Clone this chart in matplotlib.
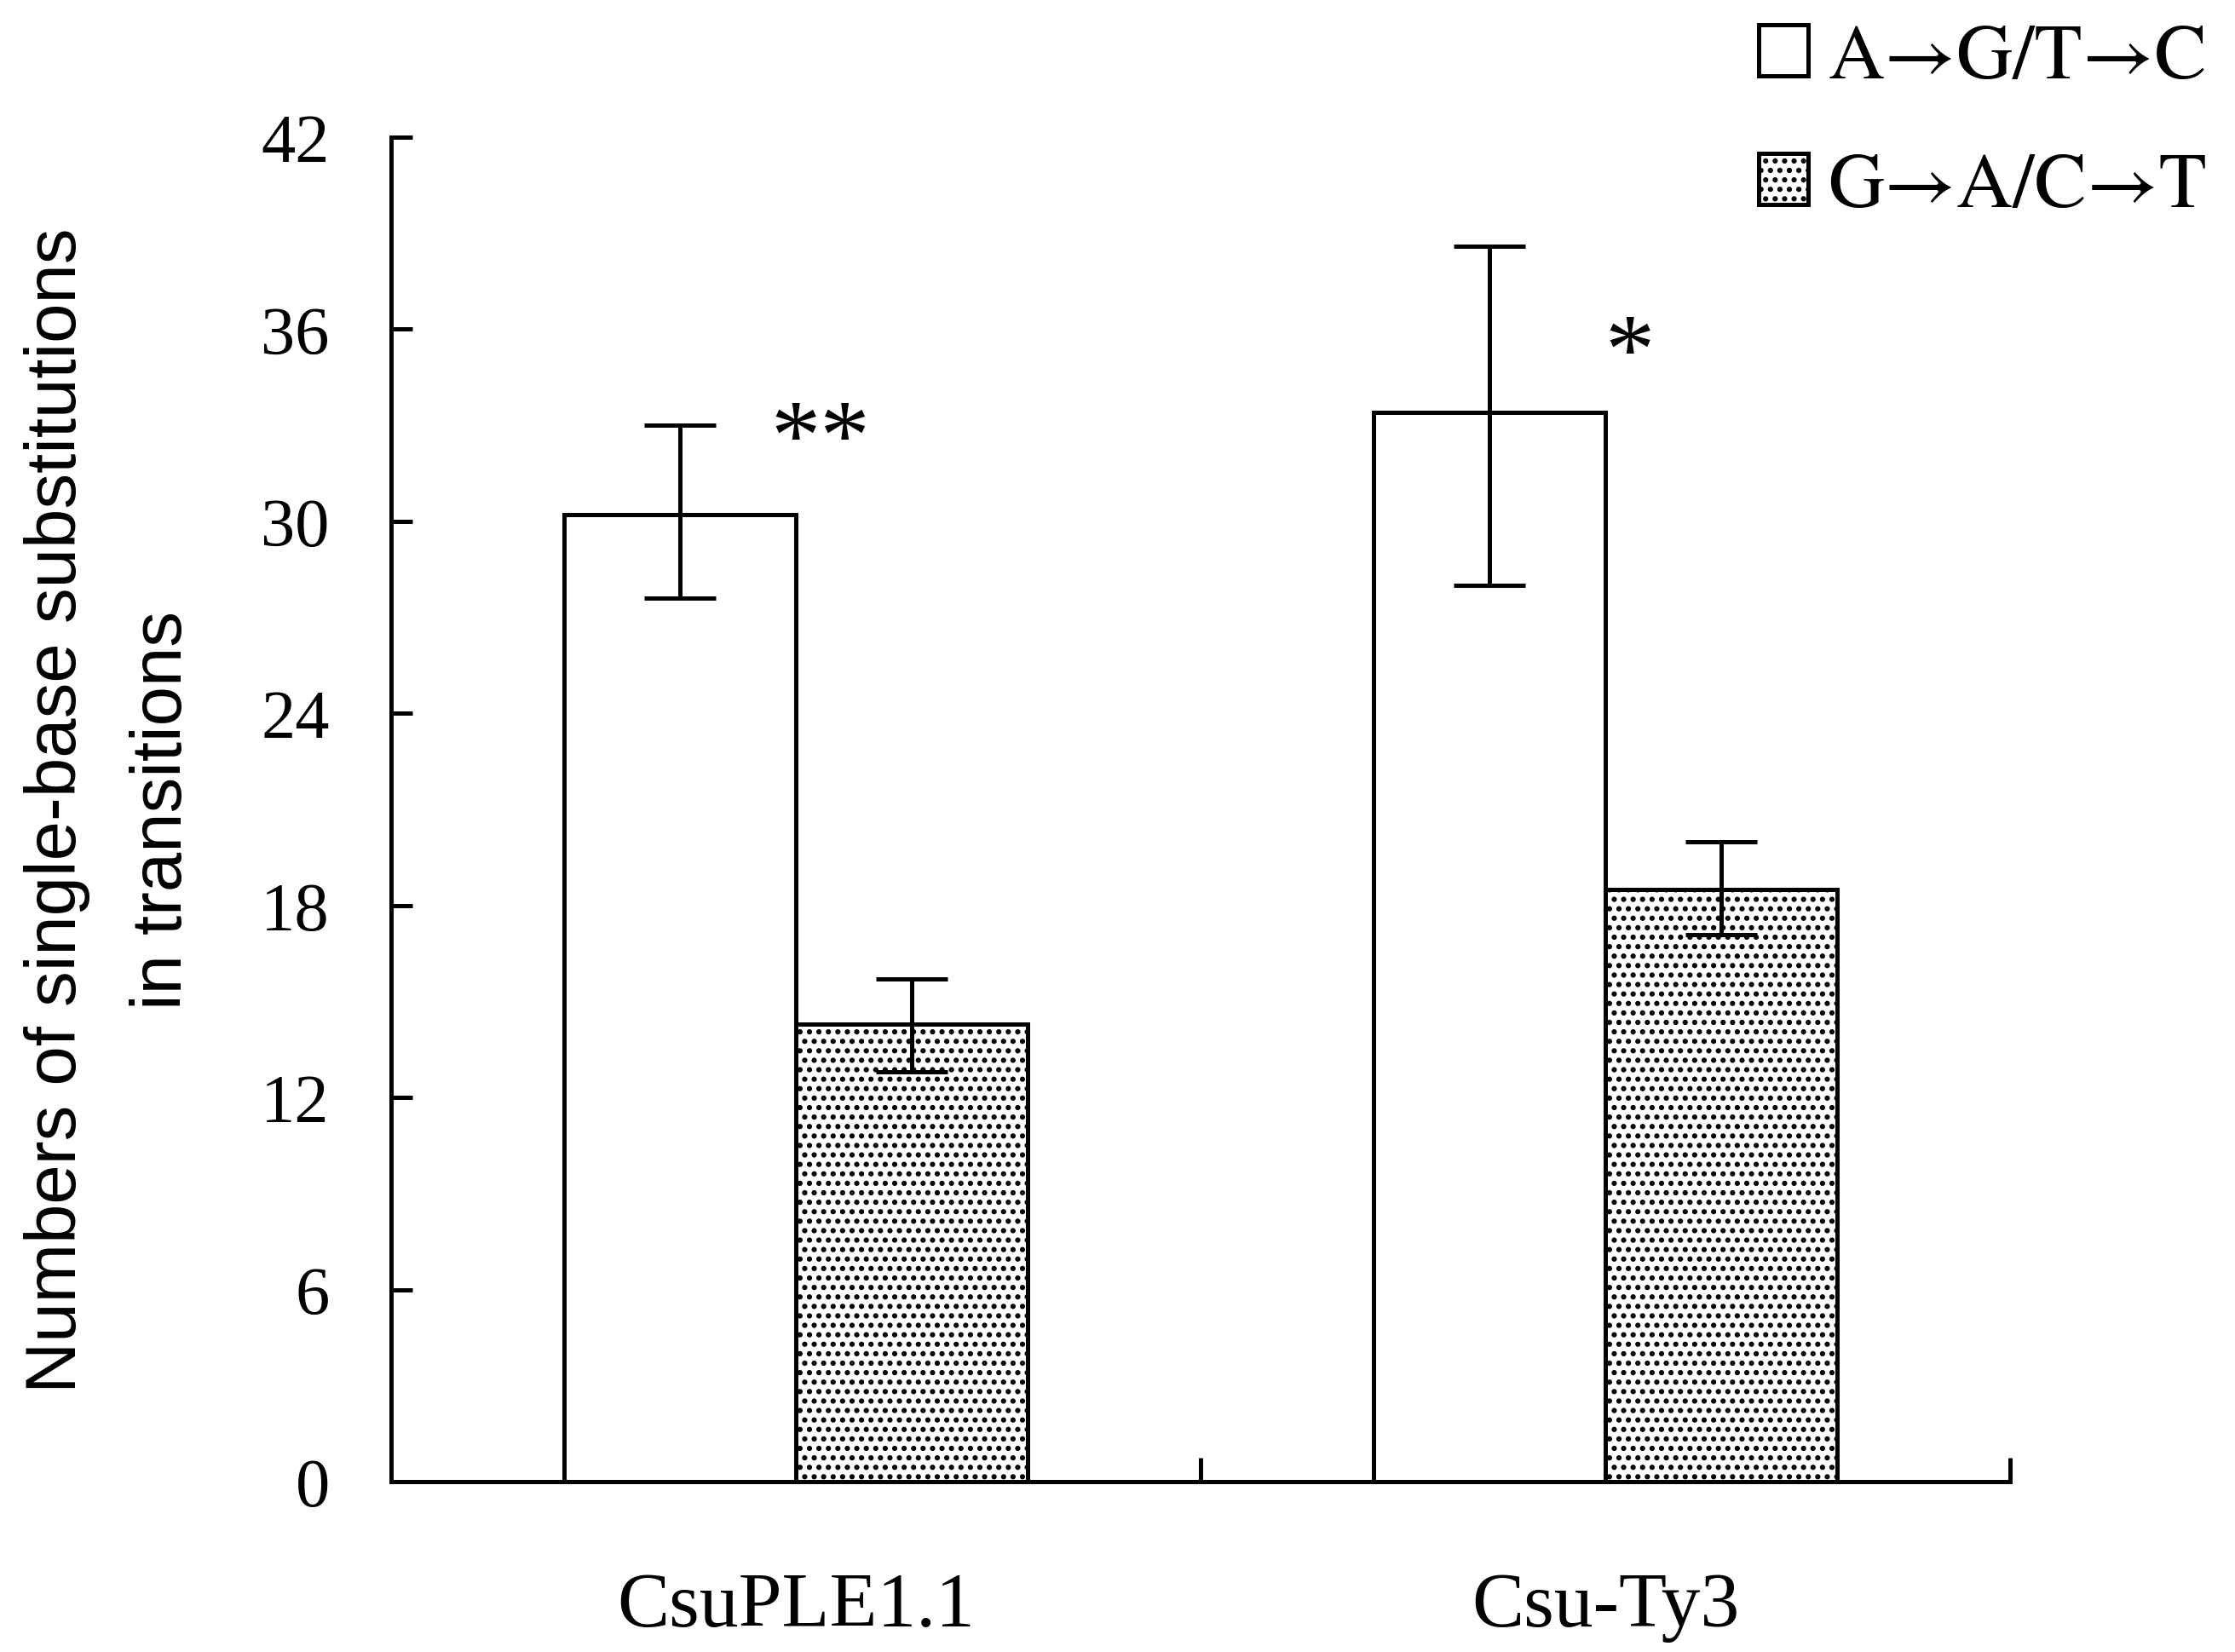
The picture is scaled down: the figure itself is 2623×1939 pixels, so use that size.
"""Single-base substitutions in transitions: A->G/T->C vs G->A/C->T"""

import numpy as np
import matplotlib
matplotlib.use('Agg')
import matplotlib.pyplot as plt
from matplotlib.patches import Patch

plt.rcParams['font.family'] = ['Liberation Serif', 'DejaVu Serif']
plt.rcParams['hatch.linewidth'] = 1.4

# data
groups = ['CsuPLE1.1', 'Csu-Ty3']
series = ['A\u2192G/T\u2192C', 'G\u2192A/C\u2192T']
ag_mean = [30.2, 33.4]
ag_lo = [27.6, 28.0]
ag_hi = [33.0, 38.6]
ga_mean = [14.3, 18.5]
ga_lo = [12.8, 17.1]
ga_hi = [15.7, 20.0]
stars = ['**', '*']
star_y = [33.0, 35.7]
yticks = [0, 6, 12, 18, 24, 30, 36, 42]

fig = plt.figure(figsize=(13.115, 9.7), dpi=200)
ax = fig.add_axes([0.175, 0.1031, 0.7244, 0.8134])

x = np.arange(len(groups))
w = 0.286
lw = 1.8
dots = '...'

ag_err = [np.array(ag_mean) - np.array(ag_lo), np.array(ag_hi) - np.array(ag_mean)]
ga_err = [np.array(ga_mean) - np.array(ga_lo), np.array(ga_hi) - np.array(ga_mean)]
ekw = dict(ecolor='black', elinewidth=lw, capsize=15, capthick=lw)

ax.bar(x - w / 2, ag_mean, w, color='white', edgecolor='black', lw=lw,
       yerr=ag_err, error_kw=ekw)
ax.bar(x + w / 2, ga_mean, w, color='white', edgecolor='black', lw=lw, hatch=dots,
       yerr=ga_err, error_kw=ekw)

for xi, s, sy in zip(x, stars, star_y):
    ax.annotate(s, (xi + 0.03, sy), xytext=(0, -8), textcoords='offset points',
                ha='center', va='center', fontsize=42)

ax.set_xlim(-0.5, 1.5)
ax.set_ylim(0, 42)
ax.set_yticks(yticks)
ax.tick_params(axis='y', direction='in', length=9, width=lw, labelsize=29, pad=26)
ax.set_xticks(x, groups)
ax.tick_params(axis='x', which='major', length=0, labelsize=33, pad=38)
ax.set_xticks([0.5, 1.5], minor=True)
ax.tick_params(axis='x', which='minor', direction='in', length=10, width=lw)

for side in ['top', 'right']:
    ax.spines[side].set_visible(False)
for side in ['left', 'bottom']:
    ax.spines[side].set_linewidth(lw)

ax.set_ylabel('Numbers of single-base substitutions\nin transitions',
              family=['Liberation Sans Narrow', 'Liberation Sans'],
              fontsize=30, linespacing=1.76)
ax.yaxis.set_label_coords(-0.1205, 0.5)

handles = [Patch(facecolor='white', edgecolor='black', lw=lw),
           Patch(facecolor='white', edgecolor='black', lw=lw, hatch=dots)]
leg = fig.legend(handles, series, loc='upper left',
                 bbox_to_anchor=(2064 / 2623, 1 - 30 / 1940),
                 frameon=False, handlelength=0.63, handleheight=0.63,
                 handletextpad=0.26, labelspacing=0.75, borderpad=0, borderaxespad=0,
                 prop=dict(family=['STIXGeneral', 'Liberation Serif'], size=33))

fig.savefig('out.png', dpi=200)
